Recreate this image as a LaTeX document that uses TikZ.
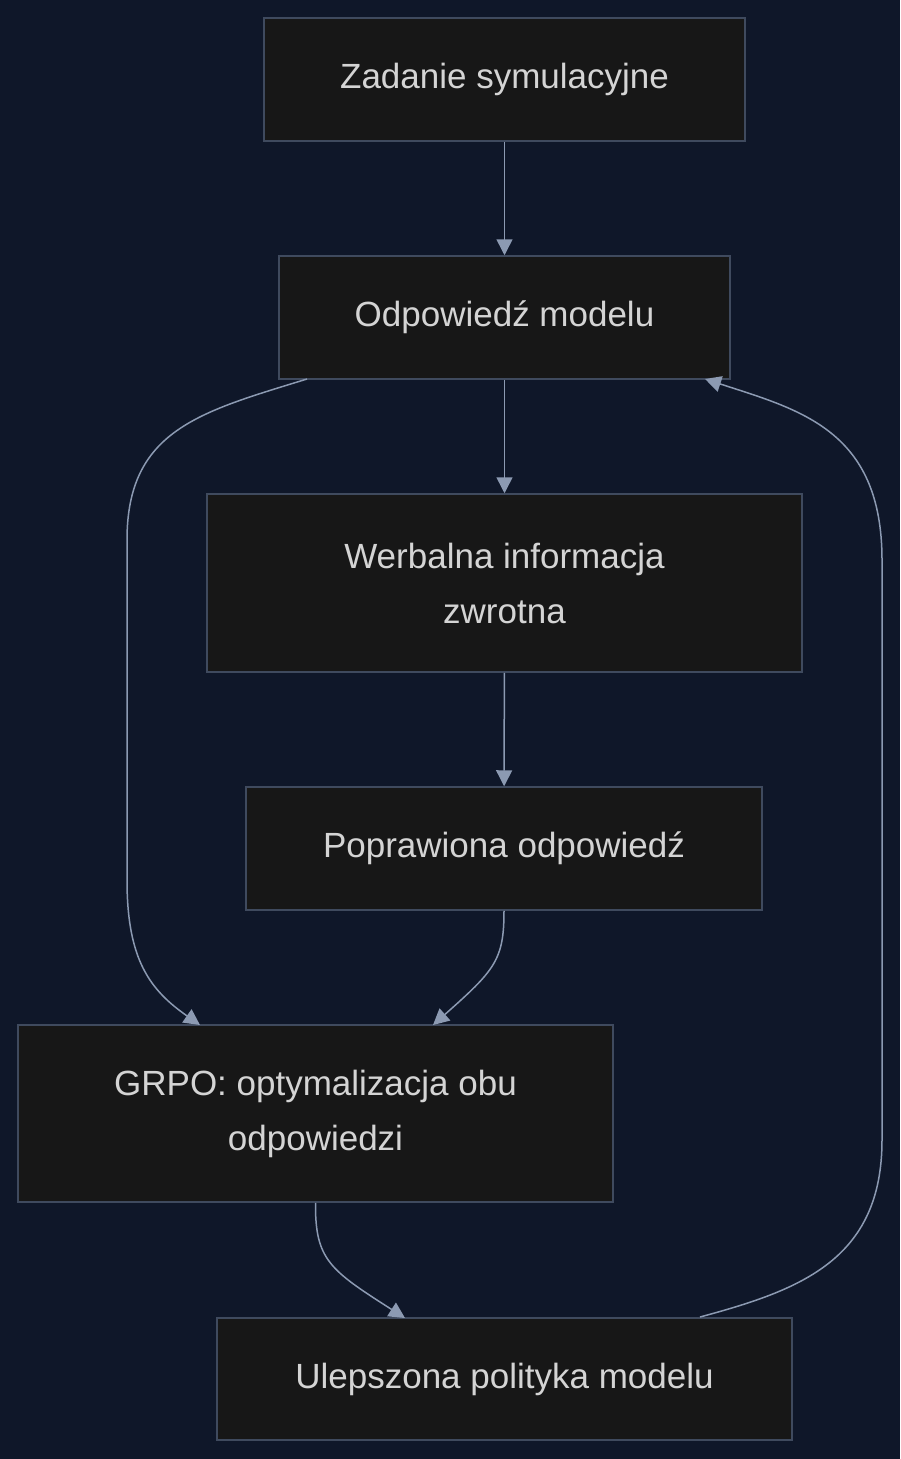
\documentclass[tikz,border=0pt]{standalone}
\usepackage{fontspec}
\setmainfont{Liberation Sans}
\usetikzlibrary{arrows.meta}
\definecolor{bgc}{HTML}{0F1729}
\definecolor{boxc}{HTML}{171717}
\definecolor{edgec}{HTML}{3F4A5E}
\definecolor{txtc}{HTML}{D4D4D4}
\definecolor{linec}{HTML}{8C9AB2}
\begin{document}
\begin{tikzpicture}[x=1pt,y=-1pt,
  box/.style={draw=edgec,line width=1.5pt,fill=boxc,text=txtc,align=center,
    font=\fontsize{35}{55}\selectfont,inner sep=0pt},
  flow/.style={draw=linec,line width=1.5pt,-{Triangle[length=16pt,width=16pt]}}]
\fill[bgc] (0,0) rectangle (900,1459);
\useasboundingbox (0,0) rectangle (900,1459);

\node[box,minimum width=481pt,minimum height=123pt] (task) at (504.5,79.5) {Zadanie symulacyjne};
\node[box,minimum width=451pt,minimum height=123pt] (answer) at (504.5,317.5) {Odpowiedź modelu};
\node[box,minimum width=595pt,minimum height=178pt] (verbal) at (504.5,583) {Werbalna informacja\\zwrotna};
\node[box,minimum width=516pt,minimum height=123pt] (fixed) at (504,848.5) {Poprawiona odpowiedź};
\node[box,minimum width=595pt,minimum height=177pt] (grpo) at (315.5,1113.5) {GRPO: optymalizacja obu\\odpowiedzi};
\node[box,minimum width=575pt,minimum height=122pt] (policy) at (504.5,1379) {Ulepszona polityka modelu};

\coordinate (answerL) at (307,379);
\coordinate (answerR) at (705,379);
\coordinate (grpoL) at (200,1025);
\coordinate (grpoR) at (433,1025);
\coordinate (policyT) at (405,1318);
\coordinate (policyR) at (700,1317);

\draw[flow] (task) -- (answer);
\draw[flow] (answer) -- (verbal);
\draw[flow] (verbal) -- (fixed);
\draw[flow] (answerL) .. controls (200,412) and (127,430) .. (127,540)
  -- (127,880) .. controls (127,960) and (150,990) .. (grpoL);
\draw[flow] (fixed.south) .. controls (504,960) and (495,970) .. (grpoR);
\draw[flow] (grpo.south) .. controls (315,1260) and (330,1270) .. (policyT);
\draw[flow] (policyR) .. controls (800,1290) and (882,1260) .. (882,1140)
  -- (882,560) .. controls (882,430) and (800,410) .. (answerR);
\end{tikzpicture}
\end{document}
